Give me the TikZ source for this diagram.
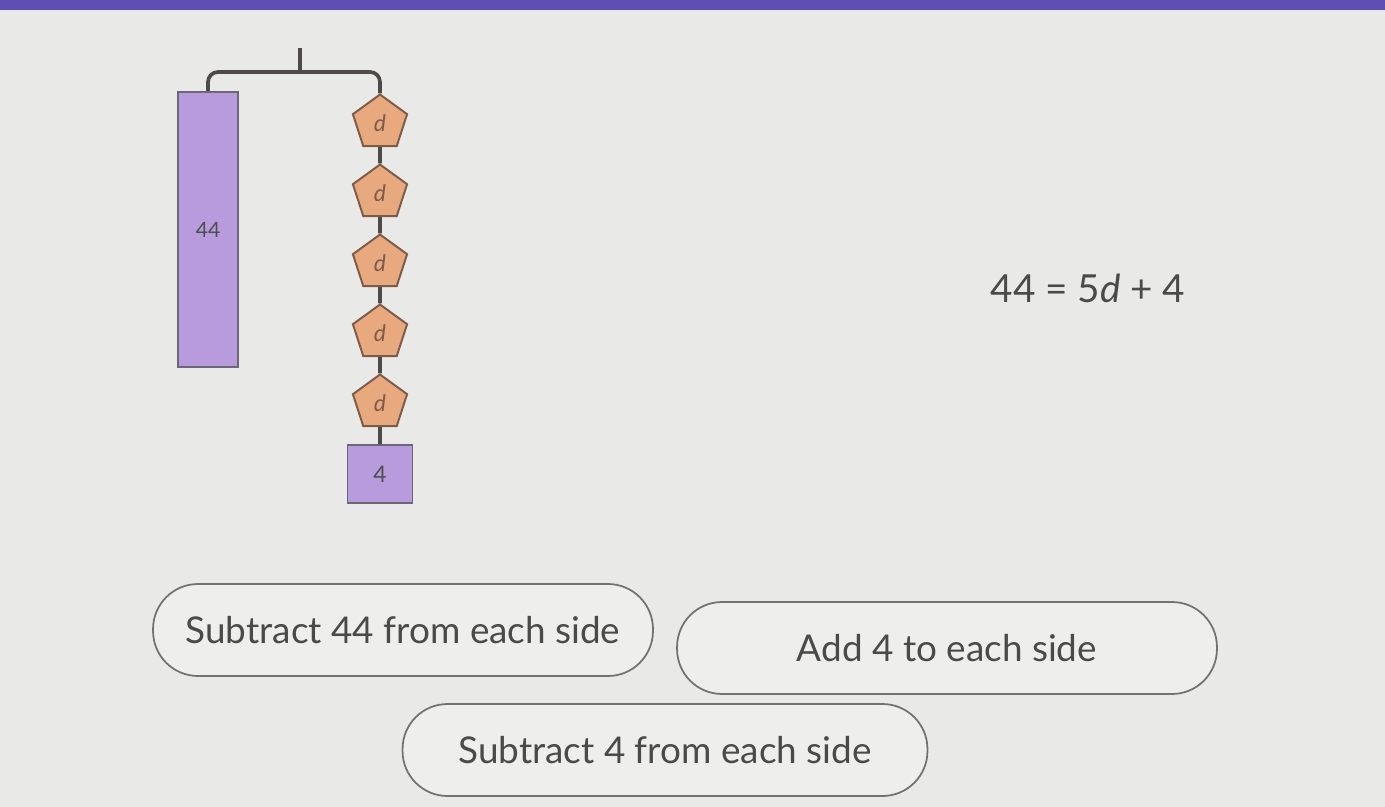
\documentclass[tikz,border=0pt]{standalone}
\usepackage{fontspec}
\setmainfont{Lato}
\definecolor{ScreenGrey}{HTML}{E9E9E7}
\definecolor{TopPurple}{HTML}{5F4FB5}
\definecolor{BarPurple}{HTML}{B79BDD}
\definecolor{BarEdge}{HTML}{6C6679}
\definecolor{WeightOrange}{HTML}{E8A97E}
\definecolor{WeightEdge}{HTML}{7E5A48}
\definecolor{RodGrey}{HTML}{4E4A48}
\definecolor{InkGrey}{HTML}{4A4A4A}
\definecolor{ButtonEdge}{HTML}{727272}
\usetikzlibrary{
  positioning,
  shapes.geometric,
  calc
}

\begin{document}
\begin{tikzpicture}[
  x=0.02cm, y=-0.02cm,
  bar/.style={
    rectangle, draw=BarEdge, fill=BarPurple,
    line width=0.9pt, inner sep=0pt,
    font=\fontsize{12}{14}\selectfont, text=InkGrey!90!BarEdge
  },
  weight/.style={
    regular polygon, regular polygon sides=5,
    draw=WeightEdge, fill=WeightOrange,
    line width=1.1pt, inner sep=0pt,
    minimum size=1.14cm,
    font=\fontsize{13}{15}\selectfont\itshape, text=WeightEdge
  },
  rod/.style={
    RodGrey, line width=2.1pt
  },
  choice/.style={
    rectangle, rounded corners=0.9cm,
    draw=ButtonEdge, fill=ScreenGrey!75!white,
    line width=1pt,
    minimum height=1.84cm,
    font=\fontsize{21}{25}\selectfont, text=InkGrey
  }
]
  % Screen and frame
  \useasboundingbox (0,0) rectangle (1385,807);
  \fill[ScreenGrey] (0,0) rectangle (1385,807);
  \fill[TopPurple] (0,0) rectangle (1385,10);

  % Hanger
  \coordinate (hook) at (300,48);
  \coordinate (pivot) at (300,72);

  % Left side: the 44 bar
  \node[bar, minimum width=1.2cm, minimum height=5.5cm]
    (left) at (208,229.5) {44};

  % Right side: five d weights and the 4 block
  \node[weight] (d1) at (380,123) {d};
  \node[weight] (d2) at (380,193) {d};
  \node[weight] (d3) at (380,263) {d};
  \node[weight] (d4) at (380,333) {d};
  \node[weight] (d5) at (380,403) {d};
  \node[bar, minimum width=1.3cm, minimum height=1.16cm,
    font=\fontsize{13}{15}\selectfont]
    (four) at (380,474) {4};

  \draw[rod] (hook) -- (pivot);
  \draw[rod, rounded corners=0.2cm]
    (left.north) |- (pivot) -| (d1.north);
  \draw[rod] (d1.south) -- (d2.north);
  \draw[rod] (d2.south) -- (d3.north);
  \draw[rod] (d3.south) -- (d4.north);
  \draw[rod] (d4.south) -- (d5.north);
  \draw[rod] (d5.south) -- (four.north);

  % Equation
  \node[font=\fontsize{22}{26}\selectfont, text=InkGrey]
    (eqn) at (1088,288) {44 = 5\textit{d} + 4};

  % Answer buttons
  \node[choice, minimum width=10cm] (sub44)
    at (403,630) {Subtract 44 from each side};
  \node[choice, minimum width=10.8cm] (add4)
    at (947,648) {Add 4 to each side};
  \node[choice, minimum width=10.5cm] (sub4)
    at (665,750) {Subtract 4 from each side};
\end{tikzpicture}
\end{document}
